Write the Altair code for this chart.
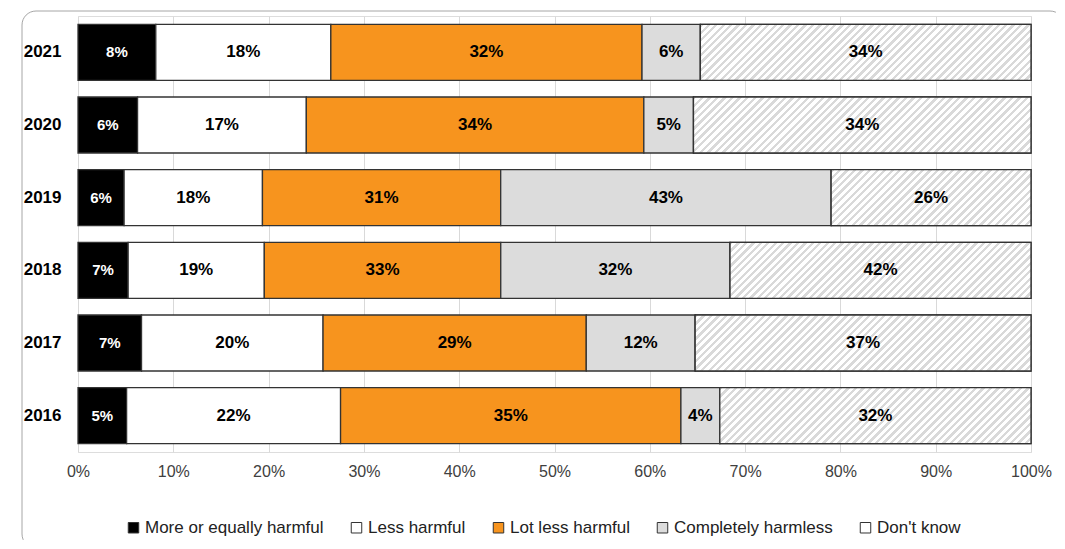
import altair as alt
import pandas as pd

years = ["2021", "2020", "2019", "2018", "2017", "2016"]
categories = ["More or equally harmful", "Less harmful", "Lot less harmful",
              "Completely harmless", "Don't know"]
more_harmful = [8, 6, 6, 7, 7, 5]
less_harmful = [18, 17, 18, 19, 20, 22]
lot_less_harmful = [32, 34, 31, 33, 29, 35]
completely_harmless = [6, 5, 43, 32, 12, 4]
dont_know = [34, 34, 26, 42, 37, 32]
colors = ["#000000", "#ffffff", "#f7941e", "#dcdcdc", "#ffffff"]
x_ticks = [0, 0.1, 0.2, 0.3, 0.4, 0.5, 0.6, 0.7, 0.8, 0.9, 1.0]

series = [more_harmful, less_harmful, lot_less_harmful, completely_harmless, dont_know]
rows = []
for ci, (cat, vals) in enumerate(zip(categories, series)):
    for y, v in zip(years, vals):
        rows.append({"year": y, "category": cat, "order": ci, "value": v})
df = pd.DataFrame(rows)

W, H = 953, 436
FONT = "Liberation Sans"
pad_inner, pad_outer = 0.23, 0.115
band_h = H / (len(years) - pad_inner + 2 * pad_outer) * (1 - pad_inner)

y_enc = alt.Y("year:N", sort=years, title=None,
              scale=alt.Scale(paddingInner=pad_inner, paddingOuter=pad_outer),
              axis=alt.Axis(domain=False, ticks=False, labelFontWeight="bold",
                            labelFontSize=17, labelColor="#000000", labelPadding=17,
                            labelFont=FONT))
x_enc = alt.X("x0:Q", title=None, scale=alt.Scale(domain=[0, 1], nice=False),
              axis=alt.Axis(format="%", values=x_ticks, domain=False, ticks=False,
                            grid=True, gridColor="#d9d9d9", gridWidth=1,
                            labelFlush=False, labelFontSize=16, labelColor="#404040",
                            labelPadding=11, labelFont=FONT))

base = alt.Chart(df).transform_stack(
    stack="value", groupby=["year"], as_=["x0", "x1"], offset="normalize",
    sort=[alt.SortField("order", order="ascending")]
)

bars = base.mark_bar(stroke="#333333", strokeWidth=1.3).encode(
    y=y_enc, x=x_enc, x2="x1:Q",
    fill=alt.Fill("category:N", sort=categories,
                  scale=alt.Scale(domain=categories, range=colors),
                  legend=alt.Legend(title=None, orient="none", direction="horizontal",
                                    legendX=47, legendY=503, symbolType="square",
                                    symbolSize=110, symbolStrokeColor="#333333",
                                    symbolStrokeWidth=1, labelFontSize=17,
                                    labelColor="#222222", labelFont=FONT,
                                    labelOffset=3, columnPadding=24,
                                    labelLimit=400)),
    order=alt.Order("order:Q"),
)


def hatch(w, h, period=7.5, frac=0.45):
    n = max(1, int(round((w + h) / period)))
    stops = []
    for i in range(n):
        a = i / n
        b = (i + frac) / n
        c = (i + 1) / n
        stops += [{"offset": a, "color": "#d9d9d9"}, {"offset": b, "color": "#d9d9d9"},
                  {"offset": b, "color": "#ffffff"}, {"offset": c, "color": "#ffffff"}]
    k = (w + h) / (w * w + h * h)
    return {"gradient": "linear", "x1": 0, "y1": 0, "x2": w * k, "y2": h * k,
            "stops": stops}


hatch_layers = []
for i, y in enumerate(years):
    total = more_harmful[i] + less_harmful[i] + lot_less_harmful[i] + completely_harmless[i] + dont_know[i]
    w = dont_know[i] / total * W
    layer = base.transform_filter(
        (alt.datum.year == y) & (alt.datum.category == "Don't know")
    ).mark_bar(fill=hatch(w, band_h), stroke="#333333", strokeWidth=1.3).encode(
        y=alt.Y("year:N", sort=years), x=alt.X("x0:Q"), x2="x1:Q"
    )
    hatch_layers.append(layer)

labels = base.transform_calculate(
    mid="(datum.x0 + datum.x1) / 2", label="datum.value + '%'"
).mark_text(font=FONT, fontWeight="bold", baseline="middle", align="center").encode(
    y=alt.Y("year:N", sort=years), x=alt.X("mid:Q"), text="label:N",
    color=alt.when(alt.datum.category == "More or equally harmful")
    .then(alt.value("#ffffff")).otherwise(alt.value("#000000")),
    size=alt.when(alt.datum.category == "More or equally harmful")
    .then(alt.value(15)).otherwise(alt.value(17)),
)

frame = alt.Chart(alt.Data(values=[{"f": 1}])).mark_rect(
    fill="transparent", stroke="#a6a6a6", strokeWidth=1, cornerRadius=14
).encode(x=alt.value(-56), x2=alt.value(W + 33), y=alt.value(-5), y2=alt.value(H + 96))

chart = alt.layer(frame, bars, *hatch_layers, labels).properties(
    width=W, height=H,
    autosize=alt.AutoSizeParams(type="none"),
    padding={"left": 70, "top": 8, "right": 25, "bottom": 88},
).configure_view(stroke=None).configure(background="#ffffff")

chart.save("out.html", embed_options={"renderer": "svg", "actions": False})
